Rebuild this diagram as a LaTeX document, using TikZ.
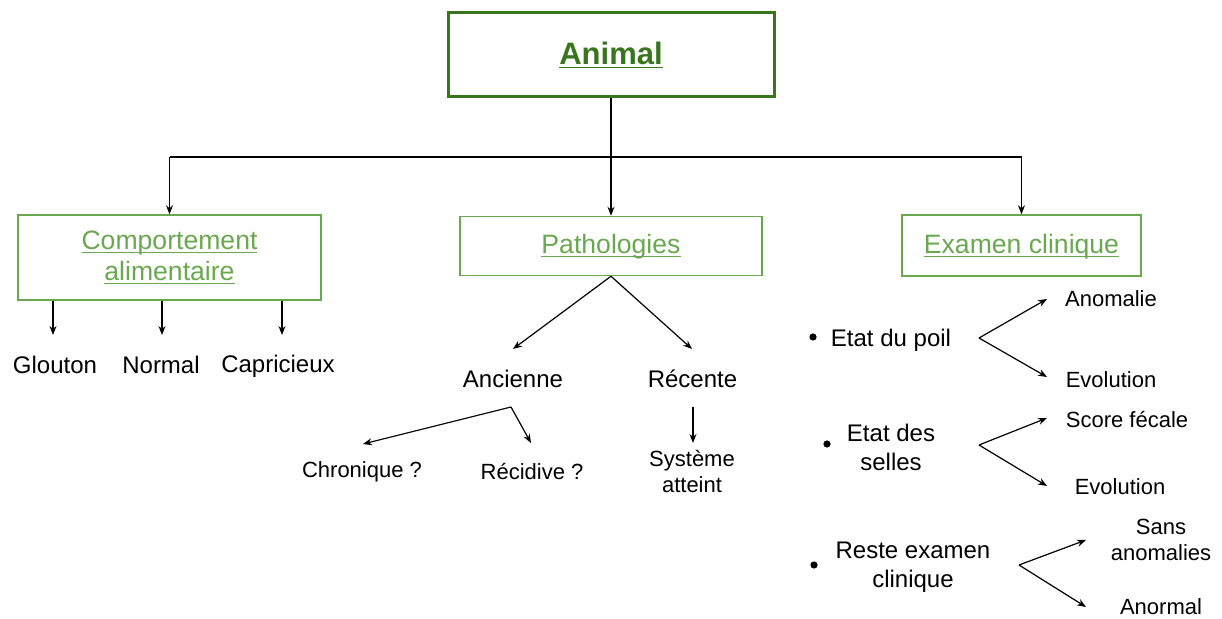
\documentclass[tikz,border=0pt]{standalone}
\usepackage{fontspec}
\setmainfont{Liberation Sans}
\usetikzlibrary{arrows.meta,positioning}
\definecolor{darkgreen}{HTML}{38761D}
\definecolor{lightgreen}{HTML}{6AA84F}
\newcommand\uword[1]{\underline{\raisebox{0pt}[\height][0pt]{#1}}}

\begin{document}
\begin{tikzpicture}[x=0.5pt,y=-0.5pt,
    >={Stealth[length=4.5pt,width=3.5pt]},
    topbox/.style={draw=darkgreen, line width=1.5pt, text=darkgreen,
        minimum width=163pt, minimum height=42pt,
        font=\fontsize{15.5}{18}\selectfont\bfseries},
    catbox/.style={draw=lightgreen, line width=0.75pt, text=lightgreen,
        align=center, font=\fontsize{13.3}{15.5}\selectfont},
    word/.style={align=center, inner sep=1pt, font=\fontsize{12}{14.5}\selectfont},
    small/.style={align=center, inner sep=1pt, font=\fontsize{11}{13}\selectfont},
    dot/.style={circle, fill=black, inner sep=0pt, minimum size=3.6pt},
    link/.style={line width=0.6pt}]
    \useasboundingbox (0,0) rectangle (1222,619);

    % top
    \node[topbox] (animal) at (611,55) {\uword{Animal}};

    % categories
    \node[catbox, minimum width=151.5pt, minimum height=42.5pt] (comport) at (169.5,257.5)
        {\uword{Comportement}\\\uword{alimentaire}};
    \node[catbox, minimum width=151pt, minimum height=29.5pt] (patho) at (611,246)
        {\uword{Pathologies}};
    \node[catbox, minimum width=119.5pt, minimum height=30.5pt] (examen) at (1021.5,245.5)
        {\uword{Examen clinique}};

    \draw[link] (animal.south) -- (611,157) coordinate (hub);
    \draw[link] (hub -| comport) -- (hub -| examen);
    \draw[link, ->] (hub -| comport) -- (comport.north);
    \draw[link, ->] (hub) -- (patho.north);
    \draw[link, ->] (hub -| examen) -- (examen.north);

    % comportement alimentaire
    \node[word] (glouton) at (55,365) {Glouton};
    \node[word] (normal) at (161,365) {Normal};
    \node[word] (capric) at (278,366) {Capricieux};
    \draw[link, ->] (comport.south -| 53,0) -- (53,335);
    \draw[link, ->] (comport.south -| 162,0) -- (162,335);
    \draw[link, ->] (comport.south -| 282,0) -- (282,335);

    % pathologies
    \node[word] (ancienne) at (513,379) {Ancienne};
    \node[word] (recente) at (692.5,379) {Récente};
    \coordinate (ancTip) at (513,349);
    \coordinate (recTip) at (692,349);
    \draw[link, ->] (patho.south) -- (ancTip);
    \draw[link, ->] (patho.south) -- (recTip);

    \node[small] (chronique) at (362,472) {Chronique ?};
    \node[small] (recidive) at (532,472) {Récidive ?};
    \coordinate (ancFork) at (511,407);
    \draw[link, ->] (ancFork) -- (363,444);
    \draw[link, ->] (ancFork) -- (531,443);

    \node[small] (systeme) at (692,472) {Système\\atteint};
    \draw[link, ->] (693,407) -- (693,443);

    % examen clinique
    \node[dot] (d1) at (813,337) {};
    \node[word] (poil) at (891,340) {Etat du poil};
    \node[small] (anomalie) at (1111,299) {Anomalie};
    \node[small] (evol1) at (1111,380) {Evolution};
    \coordinate (poilFork) at (979,338);
    \draw[link, ->] (poilFork) -- (1047,299);
    \draw[link, ->] (poilFork) -- (1047,377);

    \node[dot] (d2) at (827,444) {};
    \node[word] (selles) at (891,447) {Etat des\\selles};
    \node[small] (score) at (1127,420) {Score fécale};
    \node[small] (evol2) at (1120,487) {Evolution};
    \coordinate (sellesFork) at (979,445);
    \draw[link, ->] (sellesFork) -- (1047,418);
    \draw[link, ->] (sellesFork) -- (1047,486);

    \node[dot] (d3) at (814,565) {};
    \node[word] (reste) at (913,567) {Reste examen\\clinique};
    \node[small] (sans) at (1161,540) {Sans\\anomalies};
    \node[small] (anormal) at (1161,607) {Anormal};
    \coordinate (resteFork) at (1019,565);
    \draw[link, ->] (resteFork) -- (1086,540);
    \draw[link, ->] (resteFork) -- (1086,607);
\end{tikzpicture}
\end{document}
